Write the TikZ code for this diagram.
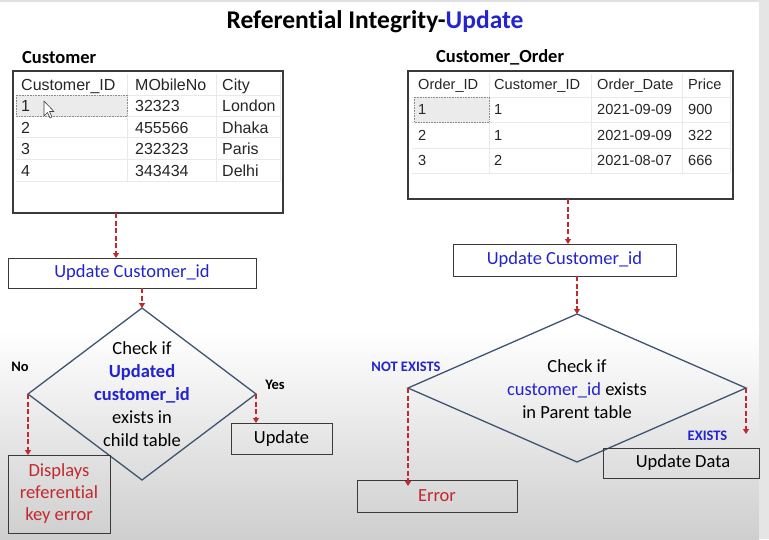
\documentclass[tikz,border=0pt]{standalone}
\usepackage{fontspec}
\setmainfont{Carlito}[Ligatures={NoCommon}]
\newfontfamily\arialf{Liberation Sans}
\usetikzlibrary{shapes.geometric,arrows.meta,calc}
\definecolor{myblue}{HTML}{2323CF}
\definecolor{myred}{HTML}{C3282E}
\definecolor{dline}{HTML}{3D5472}
\definecolor{boxline}{HTML}{3A3A3A}
\definecolor{gridc}{HTML}{E9E9EC}
\begin{document}
\begin{tikzpicture}[x=1pt,y=-1pt,
  flowbox/.style={draw=boxline,line width=1pt,inner sep=0pt,outer sep=0pt,font=\fontsize{18.5}{22}\selectfont,align=center},
  decision/.style={diamond,draw=dline,line width=1.3pt,inner sep=0pt,outer sep=0pt},
  dtext/.style={font=\fontsize{18.5}{23}\selectfont,align=center,inner sep=0pt},
  tbl/.style={draw=boxline,line width=1.4pt,inner sep=0pt,outer sep=0pt},
  tcellL/.style={anchor=base west,inner sep=0pt,font=\arialf\fontsize{16}{18}\selectfont,text=black!85},
  tcellR/.style={anchor=base west,inner sep=0pt,font=\arialf\fontsize{14.6}{17}\selectfont,text=black!85},
  flowarrow/.style={draw=myred,line width=2pt,dash pattern=on 5pt off 2.5pt,-{Triangle[width=6pt,length=5pt]}},
  lbl/.style={font=\bfseries\fontsize{14.5}{16}\selectfont,inner sep=0pt},
  heading/.style={font=\bfseries\fontsize{18.5}{22}\selectfont,inner sep=0pt,anchor=west}]
% background
\useasboundingbox (0,0) rectangle (769,539);
\fill[white] (0,0) rectangle (769,539);
\shade[top color=white,bottom color=black!19] (0,330) rectangle (759,539);
\fill[black!10] (759,0) rectangle (769,539);
\fill[black!12] (0,0) rectangle (759,2);

% title
\node[font=\bfseries\fontsize{25.5}{28}\selectfont,inner sep=0pt] (title) at (375,22) {Referential Integrity-\textcolor{myblue}{Update}};

% headings
\node[heading] (hcust) at (22,57) {Customer};
\node[heading] (hord) at (436,57) {Customer\_Order};

% left table
\node[tbl,minimum width=270pt,minimum height=142pt] (tblL) at (148,142) {};
\foreach \yy in {95,116,137,159,181} \draw[gridc,line width=0.8pt] (16,\yy) -- (280,\yy);
\foreach \xx in {127,216,280} \draw[gridc,line width=0.8pt] (\xx,74) -- (\xx,181);
\fill[black!8] (16,95) rectangle (127,116);
\draw[black!45,densely dotted,line width=0.6pt] (16,95) rectangle (127,116);
\foreach \yy/\a/\b/\c [count=\i] in {84/Customer\_ID/MObileNo/City,105/1/32323/London,127/2/455566/Dhaka,148/3/232323/Paris,170/4/343434/Delhi}{
  \node[tcellL] (La\i) at (21,\yy+6) {\a};
  \node[tcellL] (Lb\i) at (135,\yy+6) {\b};
  \node[tcellL] (Lc\i) at (222,\yy+6) {\c};
}
% mouse cursor
\draw[black!75,fill=white,line width=0.6pt,line join=round] (44,101) -- (44,116) -- (47.5,112.5) -- (50,118) -- (52,117) -- (49.5,111.5) -- (54,111.5) -- cycle;

% right table
\node[tbl,minimum width=325pt,minimum height=128pt] (tblR) at (570.5,135) {};
\foreach \yy in {97,122,148,173} \draw[gridc,line width=0.8pt] (412,\yy) -- (730,\yy);
\foreach \xx in {489,591,682,730} \draw[gridc,line width=0.8pt] (\xx,74) -- (\xx,173);
\fill[black!8] (414,97) rectangle (489,122);
\draw[black!45,densely dotted,line width=0.6pt] (414,97) rectangle (489,122);
\foreach \yy/\a/\b/\c/\d [count=\i] in {84/Order\_ID/Customer\_ID/Order\_Date/Price,109/1/1/2021-09-09/900,135/2/1/2021-09-09/322,160/3/2/2021-08-07/666}{
  \node[tcellR] (Ra\i) at (418,\yy+5.3) {\a};
  \node[tcellR] (Rb\i) at (494,\yy+5.3) {\b};
  \node[tcellR] (Rc\i) at (597,\yy+5.3) {\c};
  \node[tcellR] (Rd\i) at (688,\yy+5.3) {\d};
}

% left flow
\node[flowbox,fill=white,minimum width=248pt,minimum height=30pt,text=myblue] (upd1) at (132,273) {Update Customer\_id};
\node[decision,minimum width=228pt,minimum height=172pt] (dia1) at (142,394) {};
\node[dtext] (dia1t) at (142,394.5) {Check if\\\textcolor{myblue}{\bfseries Updated}\\\textcolor{myblue}{\bfseries customer\_id}\\exists in\\child table};
\node[flowbox,minimum width=102pt,minimum height=78pt,text=myred] (err1) at (59,494) {Displays\\referential\\key error};
\node[flowbox,minimum width=101pt,minimum height=31pt] (updL) at (281.5,438.5) {Update};
\node[lbl] (lno) at (20,367) {No};
\node[lbl] (lyes) at (275,385) {Yes};
\coordinate (ax1) at (116,0);
\draw[flowarrow] (tblL.south -| ax1) -- (upd1.north -| ax1);
\draw[flowarrow] (dia1.north |- upd1.south) -- (dia1.north);
\draw[flowarrow] (dia1.west) -- (dia1.west |- err1.north);
\draw[flowarrow] (dia1.east) -- (dia1.east |- updL.north);

% right flow
\node[flowbox,fill=white,minimum width=223pt,minimum height=32pt,text=myblue] (upd2) at (564.5,260) {Update Customer\_id};
\node[decision,minimum width=338pt,minimum height=148pt] (dia2) at (577,388) {};
\node[dtext] (dia2t) at (577,389) {Check if\\\textcolor{myblue}{customer\_id} exists\\in Parent table};
\node[flowbox,minimum width=160pt,minimum height=32pt,text=myred] (err2) at (437,496) {Error};
\node[flowbox,minimum width=156pt,minimum height=30pt] (updD) at (681,463) {\hspace*{4pt}Update Data};
\node[lbl,text=myblue] (lnot) at (406,367) {NOT EXISTS};
\node[lbl,text=myblue] (lex) at (707.5,436) {EXISTS};
\coordinate (ax2) at (568,0);
\coordinate (hend) at (746,434);
\coordinate (gend) at (408,486);
\draw[flowarrow] (tblR.south -| ax2) -- (upd2.north -| ax2);
\draw[flowarrow] (dia2.north |- upd2.south) -- (dia2.north);
\draw[flowarrow] (dia2.west) -- (dia2.west |- gend);
\draw[flowarrow] (dia2.east) -- (dia2.east |- hend);
\end{tikzpicture}
\end{document}
